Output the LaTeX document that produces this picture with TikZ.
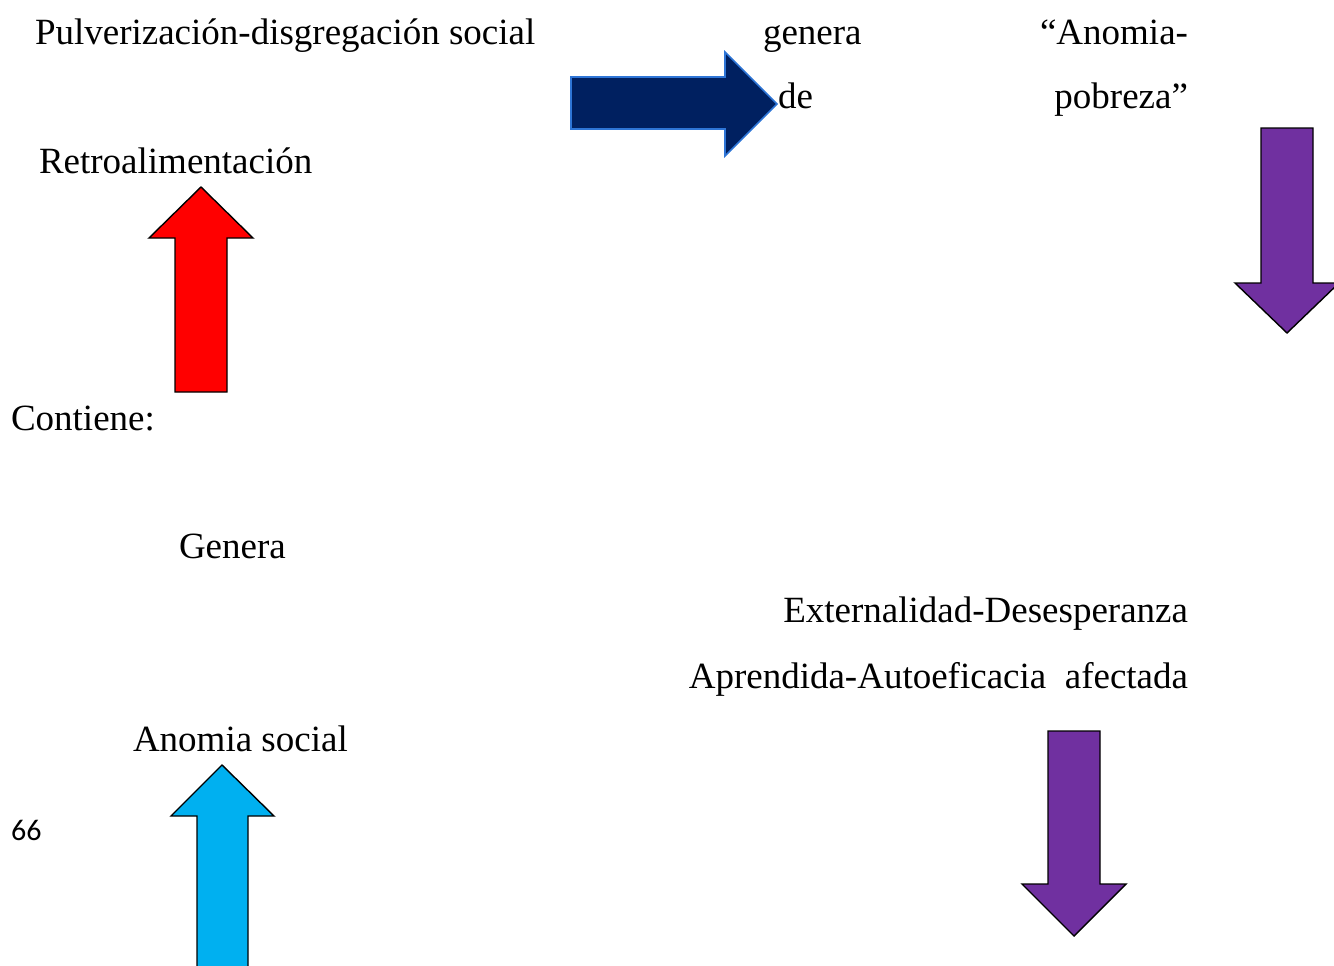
\documentclass[tikz,border=0pt]{standalone}
\usepackage{fontspec}
\setmainfont{Liberation Serif}
\newfontfamily\pagenumfont{Carlito}
\definecolor{navyfill}{HTML}{002060}
\definecolor{navyedge}{HTML}{2E75D6}
\definecolor{purplefill}{HTML}{7030A0}
\definecolor{skyfill}{HTML}{00B0F0}
\definecolor{redfill}{HTML}{FF0000}
\begin{document}
\begin{tikzpicture}[x=1pt,y=-1pt,
  label/.style={inner sep=0pt,outer sep=0pt,font=\fontsize{37}{44}\selectfont},
  lw/.style={label,anchor=base west},
  le/.style={label,anchor=base east},
  blockarrow/.style={draw=black,line width=1.4pt,line join=miter}]
\useasboundingbox (0,0) rectangle (1334,966);

% text lines
\node[lw] (pulv) at (35,45) {Pulverización-disgregación social};
\node[lw] (gen1) at (763,45) {genera};
\node[le] (anom1) at (1188,45) {“Anomia-};
\node[lw] (de) at (778,108) {de};
\node[le] (pobr) at (1188,108) {pobreza”};
\node[lw] (retro) at (39,173) {Retroalimentación};
\node[lw] (cont) at (11,430) {Contiene:};
\node[lw] (gen2) at (179,558) {Genera};
\node[le] (ext) at (1188,622) {Externalidad-Desesperanza};
\node[le] (apr) at (1188,688) {Aprendida-Autoeficacia\ \ afectada};
\node[lw] (anso) at (133,751) {Anomia social};
\node[inner sep=0pt,anchor=base west,font=\pagenumfont\fontsize{30}{36}\selectfont] (pnum) at (11,840) {66};

% right-pointing navy arrow
\draw[blockarrow,draw=navyedge,fill=navyfill,line width=1.6pt]
  (571,77) -- (725,77) -- (725,52) -- (777,104) -- (725,156) -- (725,129) -- (571,129) -- cycle;

% red upward arrow
\draw[blockarrow,fill=redfill]
  (175,392) -- (175,238) -- (149,238) -- (201,187) -- (253,238) -- (227,238) -- (227,392) -- cycle;

% purple downward arrow, right edge
\draw[blockarrow,fill=purplefill]
  (1261,128) -- (1313,128) -- (1313,283) -- (1339,283) -- (1287,333) -- (1235,283) -- (1261,283) -- cycle;

% purple downward arrow, lower right
\draw[blockarrow,fill=purplefill]
  (1048,731) -- (1100,731) -- (1100,884) -- (1126,884) -- (1074,936) -- (1022,884) -- (1048,884) -- cycle;

% sky-blue upward arrow
\draw[blockarrow,fill=skyfill]
  (197,990) -- (197,816) -- (171,816) -- (222,765) -- (274,816) -- (248,816) -- (248,990) -- cycle;
\end{tikzpicture}
\end{document}
